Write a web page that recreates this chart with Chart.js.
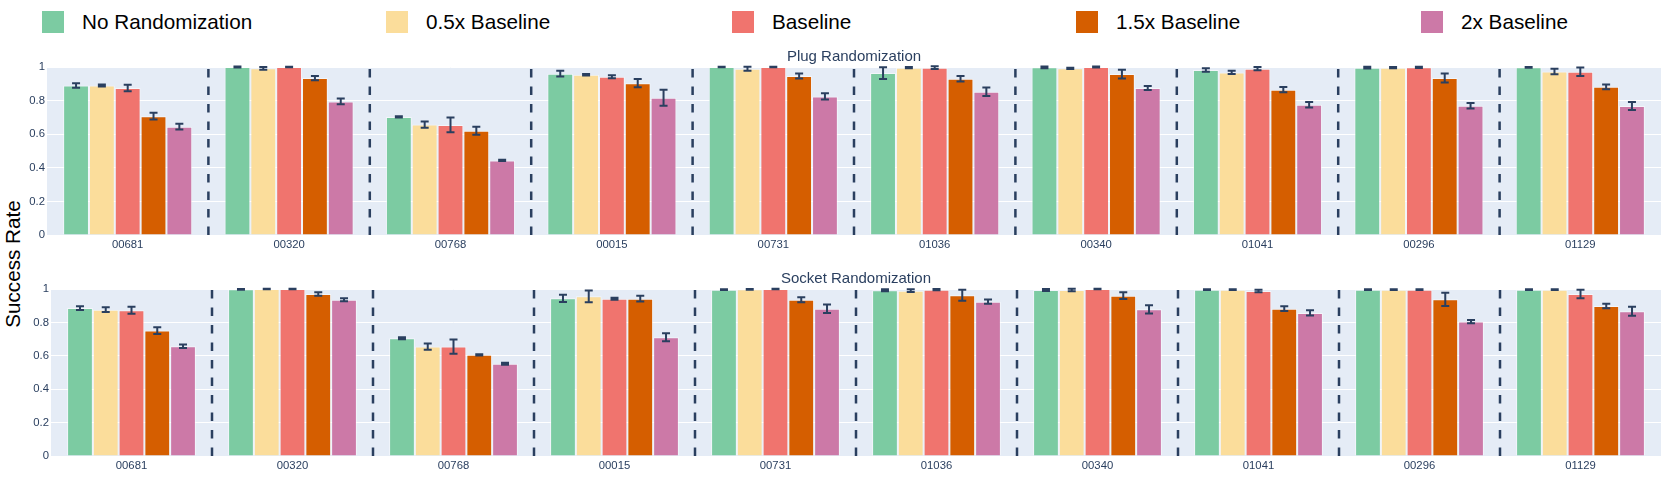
<!DOCTYPE html>
<html>
<head>
<meta charset="utf-8">
<script src="https://cdn.jsdelivr.net/npm/chart.js@4.4.1/dist/chart.umd.min.js"></script>
<style>
  body { margin: 0; width: 1661px; height: 478px; background: #fff; position: relative; overflow: hidden; font-family: "Liberation Sans", Arial, sans-serif; }
  .legend-box { position: absolute; top: 11px; width: 22px; height: 22px; }
  .legend-text { position: absolute; top: 9px; font-size: 20.7px; line-height: 26px; color: #000; white-space: nowrap; }
  #ytitle { position: absolute; left: 12.5px; top: 264px; transform: translate(-50%, -50%) rotate(-90deg); font-size: 20.7px; color: #000; white-space: nowrap; }
  .panel { position: absolute; left: 0; width: 1661px; }
</style>
</head>
<body>
<div id="legend"></div>
<div id="ytitle">Success Rate</div>
<div class="panel" style="top:45px;height:212px"><canvas id="plugChart"></canvas></div>
<div class="panel" style="top:265px;height:213px"><canvas id="socketChart"></canvas></div>
<script>
const categories = ['00681', '00320', '00768', '00015', '00731', '01036', '00340', '01041', '00296', '01129'];
const seriesNames = ['No Randomization', '0.5x Baseline', 'Baseline', '1.5x Baseline', '2x Baseline'];
const seriesColors = ['#7ccba2', '#fbdd9b', '#f0746e', '#d55e00', '#cc79a7'];

// Plug randomization
const plugNoRand   = [0.890, 1.000, 0.703, 0.960, 1.000, 0.964, 0.998, 0.982, 0.996, 0.998];
const plugHalf     = [0.890, 0.992, 0.657, 0.954, 0.990, 0.996, 0.992, 0.968, 0.996, 0.973];
const plugBase     = [0.875, 1.000, 0.655, 0.942, 1.000, 0.996, 1.000, 0.990, 0.998, 0.972];
const plugOneHalf  = [0.707, 0.934, 0.620, 0.904, 0.946, 0.930, 0.958, 0.865, 0.934, 0.882];
const plugDouble   = [0.645, 0.795, 0.444, 0.817, 0.825, 0.853, 0.875, 0.775, 0.769, 0.768];

const plugNoRandErr  = [0.014, 0.003, 0.004, 0.017, 0.002, 0.035, 0.005, 0.010, 0.005, 0.002];
const plugHalfErr    = [0.006, 0.008, 0.018, 0.004, 0.012, 0.004, 0.004, 0.010, 0.004, 0.016];
const plugBaseErr    = [0.020, 0.002, 0.044, 0.009, 0.002, 0.008, 0.003, 0.010, 0.004, 0.025];
const plugOneHalfErr = [0.020, 0.013, 0.024, 0.025, 0.015, 0.016, 0.026, 0.016, 0.027, 0.014];
const plugDoubleErr  = [0.017, 0.017, 0.004, 0.048, 0.019, 0.025, 0.012, 0.016, 0.016, 0.024];

// Socket randomization
const socketNoRand   = [0.886, 0.998, 0.705, 0.944, 0.996, 0.992, 0.994, 0.996, 0.996, 0.996];
const socketHalf     = [0.876, 1.000, 0.655, 0.956, 0.998, 0.990, 0.994, 0.996, 0.996, 0.996];
const socketBase     = [0.873, 1.000, 0.655, 0.942, 1.000, 0.996, 1.000, 0.988, 0.996, 0.970];
const socketOneHalf  = [0.751, 0.970, 0.606, 0.942, 0.936, 0.962, 0.960, 0.882, 0.938, 0.898];
const socketDouble   = [0.657, 0.936, 0.552, 0.711, 0.882, 0.924, 0.878, 0.857, 0.805, 0.867];

const socketNoRandErr  = [0.011, 0.002, 0.006, 0.022, 0.002, 0.006, 0.006, 0.002, 0.002, 0.002];
const socketHalfErr    = [0.014, 0.002, 0.019, 0.035, 0.002, 0.008, 0.008, 0.002, 0.002, 0.002];
const socketBaseErr    = [0.021, 0.002, 0.043, 0.006, 0.002, 0.004, 0.002, 0.008, 0.002, 0.025];
const socketOneHalfErr = [0.020, 0.010, 0.004, 0.017, 0.015, 0.033, 0.020, 0.014, 0.040, 0.013];
const socketDoubleErr  = [0.011, 0.009, 0.006, 0.024, 0.025, 0.013, 0.025, 0.016, 0.010, 0.027];

const yTicks = [0, 0.2, 0.4, 0.6, 0.8, 1];
const yTickLabels = ['0', '0.2', '0.4', '0.6', '0.8', '1'];

const textColor = '#2a3f5f';
const tickFont = { family: 'Liberation Sans', size: 11.3 };

// legend (html)
const legendLeft = [42, 386, 732, 1076, 1421];
const legendEl = document.getElementById('legend');
seriesNames.forEach((name, i) => {
    const box = document.createElement('div');
    box.className = 'legend-box';
    box.style.left = legendLeft[i] + 'px';
    box.style.background = seriesColors[i];
    legendEl.appendChild(box);
    const txt = document.createElement('div');
    txt.className = 'legend-text';
    txt.style.left = (legendLeft[i] + 40) + 'px';
    txt.textContent = name;
    legendEl.appendChild(txt);
});

// plot background, dashed group separators, error bars, panel title
const panelPlugin = {
    id: 'panelPlugin',
    beforeDraw(chart) {
        const a = chart.chartArea;
        const ctx = chart.ctx;
        ctx.save();
        ctx.fillStyle = '#e5ecf6';
        ctx.fillRect(a.left, a.top, a.right - a.left, a.bottom - a.top);
        ctx.restore();
    },
    afterDatasetsDraw(chart) {
        const a = chart.chartArea;
        const ctx = chart.ctx;
        const xs = chart.scales.x;
        const ys = chart.scales.y;

        // dashed separators between categories
        ctx.save();
        ctx.strokeStyle = textColor;
        ctx.lineWidth = 2.5;
        ctx.setLineDash([8.5, 9]);
        for (let i = 1; i < categories.length; i++) {
            const x = (xs.getPixelForTick(i - 1) + xs.getPixelForTick(i)) / 2;
            ctx.beginPath();
            ctx.moveTo(x, ys.getPixelForValue(0));
            ctx.lineTo(x, ys.getPixelForValue(1));
            ctx.stroke();
        }
        ctx.restore();

        // error bars
        ctx.save();
        ctx.strokeStyle = textColor;
        ctx.lineWidth = 2;
        chart.data.datasets.forEach((ds, di) => {
            const meta = chart.getDatasetMeta(di);
            meta.data.forEach((bar, j) => {
                const v = ds.data[j];
                const e = ds.errors[j];
                const yt = ys.getPixelForValue(v + e);
                const yb = ys.getPixelForValue(v - e);
                const x = bar.x;
                ctx.beginPath();
                ctx.moveTo(x, yt); ctx.lineTo(x, yb);
                ctx.moveTo(x - 4, yt); ctx.lineTo(x + 4, yt);
                ctx.moveTo(x - 4, yb); ctx.lineTo(x + 4, yb);
                ctx.stroke();
            });
        });
        ctx.restore();

        // subplot title
        const title = chart.options.plugins.panelPlugin.title;
        ctx.save();
        ctx.fillStyle = textColor;
        ctx.font = '15px "Liberation Sans"';
        ctx.textAlign = 'center';
        ctx.textBaseline = 'middle';
        ctx.fillText(title, (a.left + a.right) / 2, a.top - 10);
        ctx.restore();
    }
};

function makePanel(canvasId, title, values, errors, padTop, axisWidth) {
    const datasets = seriesNames.map((name, i) => ({
        label: name,
        data: values[i],
        errors: errors[i],
        backgroundColor: seriesColors[i],
        borderColor: 'rgba(255,255,255,0.55)',
        borderWidth: 1,
        categoryPercentage: 0.8,
        barPercentage: 1.0
    }));
    return new Chart(document.getElementById(canvasId), {
        type: 'bar',
        data: { labels: categories, datasets: datasets },
        plugins: [panelPlugin],
        options: {
            responsive: true,
            maintainAspectRatio: false,
            animation: false,
            layout: { padding: { top: padTop, left: 0, right: 0, bottom: 0 } },
            plugins: {
                legend: { display: false },
                tooltip: { enabled: false },
                panelPlugin: { title: title }
            },
            scales: {
                x: {
                    grid: { display: false, drawTicks: false },
                    border: { display: false },
                    ticks: { color: textColor, font: tickFont, padding: 3, maxRotation: 0 },
                    afterFit: (scale) => { scale.height = 22; }
                },
                y: {
                    min: 0,
                    max: 1,
                    afterBuildTicks: (scale) => { scale.ticks = yTicks.map(v => ({ value: v })); },
                    grid: { color: '#ffffff', lineWidth: 1, drawTicks: false },
                    border: { display: false },
                    ticks: {
                        color: textColor,
                        font: tickFont,
                        padding: 2,
                        callback: (value) => yTickLabels[yTicks.indexOf(value)]
                    },
                    afterFit: (scale) => { scale.width = axisWidth; }
                }
            }
        }
    });
}

makePanel('plugChart', 'Plug Randomization',
    [plugNoRand, plugHalf, plugBase, plugOneHalf, plugDouble],
    [plugNoRandErr, plugHalfErr, plugBaseErr, plugOneHalfErr, plugDoubleErr], 22, 47);

makePanel('socketChart', 'Socket Randomization',
    [socketNoRand, socketHalf, socketBase, socketOneHalf, socketDouble],
    [socketNoRandErr, socketHalfErr, socketBaseErr, socketOneHalfErr, socketDoubleErr], 24, 51);
</script>
</body>
</html>
